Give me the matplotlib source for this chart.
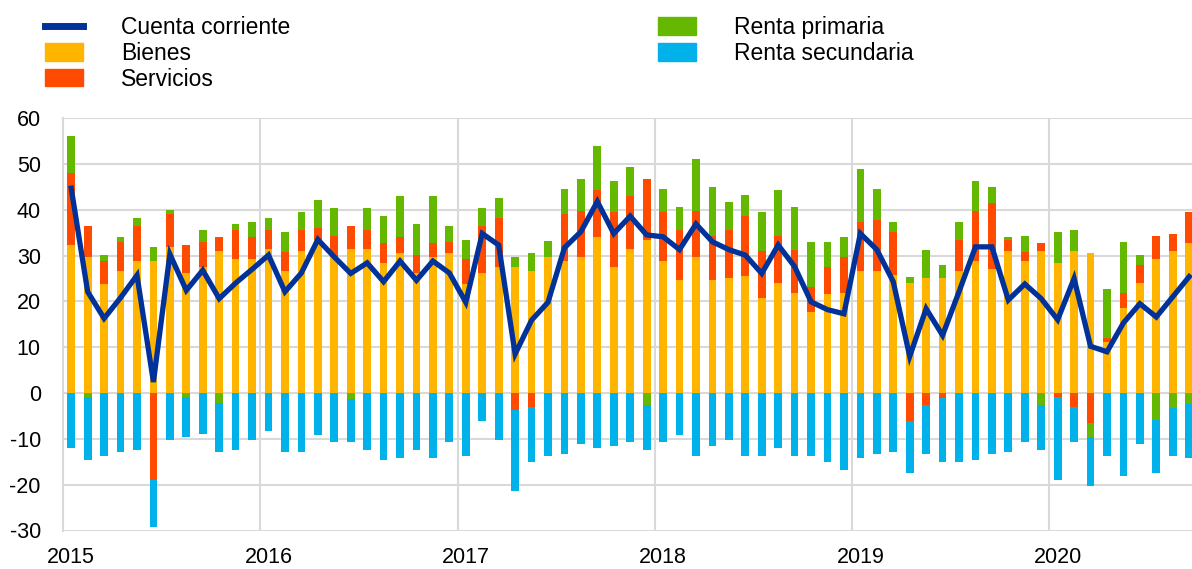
import matplotlib
matplotlib.use("Agg")
import matplotlib.pyplot as plt
from matplotlib.patches import Patch
from matplotlib.lines import Line2D
import numpy as np

plt.rcParams['font.family'] = ['Liberation Sans', 'DejaVu Sans']
plt.rcParams['axes.unicode_minus'] = False

# monthly data, Jan 2015 - Sep 2020 (EUR bn)
years = ['2015', '2016', '2017', '2018', '2019', '2020']

bienes = [32.3, 29.7, 23.8, 26.7, 28.8, 28.8, 31.9, 26.3, 27.6, 31.0, 29.2, 29.2,
          31.4, 26.7, 31.0, 33.5, 29.7, 31.4, 31.4, 28.4, 30.5, 26.2, 29.7, 30.5,
          23.8, 26.2, 27.6, 27.6, 26.7, 29.7, 28.8, 29.7, 34.0, 27.6, 31.4, 33.5,
          28.8, 24.6, 29.7, 24.6, 25.0, 25.5, 20.8, 24.1, 21.9, 17.7, 21.6, 21.9,
          26.7, 26.7, 25.7, 24.1, 25.0, 25.0, 26.7, 28.8, 27.0, 31.0, 28.8, 31.0,
          28.4, 31.0, 30.5, 11.2, 18.6, 24.1, 29.2, 31.0, 32.7]
servicios = [15.7, 6.7, 5.0, 6.3, 7.7, -18.9, 7.1, 5.9, 5.4, 3.0, 6.4, 4.8,
             4.2, 4.1, 4.6, 2.6, 4.6, 5.0, 4.2, 4.3, 3.5, 3.9, 3.0, 2.5,
             5.4, 10.2, 10.6, -3.6, -3.0, 0.0, 10.2, 10.1, 10.2, 11.8, 11.5, 13.2,
             10.6, 11.0, 10.1, 9.7, 10.6, 13.1, 10.2, 10.2, 9.4, 5.5, 6.0, 7.8,
             10.7, 11.1, 9.5, -6.1, -2.7, -1.0, 6.8, 11.0, 14.5, 2.5, 2.0, 1.7,
             -0.9, -3.1, -6.6, 0.9, 3.3, 3.8, 5.1, 3.8, 6.7]
renta_primaria = [8.1, -0.9, 1.3, 1.0, 1.7, 3.1, 0.9, -0.9, 2.6, -2.2, 1.3, 3.3,
                  2.6, 4.3, 3.8, 6.0, 6.0, -1.3, 4.7, 5.9, 8.9, 6.8, 10.2, 3.4,
                  4.3, 3.9, 4.3, 2.1, 3.8, 3.4, 5.5, 6.9, 9.7, 6.9, 6.4, -2.6,
                  5.1, 5.1, 11.2, 10.6, 6.0, 4.6, 8.4, 9.9, 9.4, 9.8, 5.4, 4.3,
                  11.4, 6.7, 2.1, 1.3, 6.3, 2.9, 3.8, 6.5, 3.4, 0.5, 3.5, -2.6,
                  6.8, 4.6, -3.1, 10.7, 11.1, 2.2, -5.8, -3.2, -2.3]
renta_secundaria = [-12.0, -13.7, -13.8, -12.9, -12.5, -10.3, -10.3, -8.6, -9.0, -10.7, -12.5, -10.3,
                    -8.2, -12.9, -12.9, -9.1, -10.7, -9.4, -12.5, -14.6, -14.2, -12.5, -14.2, -10.7,
                    -13.8, -6.1, -10.3, -17.8, -12.1, -13.8, -13.3, -11.1, -12.0, -11.6, -10.7, -9.9,
                    -10.7, -9.1, -13.8, -11.6, -10.3, -13.8, -13.8, -12.0, -13.8, -13.8, -15.1, -16.7,
                    -14.2, -13.3, -12.9, -11.4, -10.6, -14.1, -15.1, -14.6, -13.3, -12.9, -10.7, -9.9,
                    -18.0, -7.6, -10.5, -13.8, -18.0, -11.1, -11.7, -10.6, -11.9]
cuenta_corriente = [44.7, 22.1, 16.3, 20.8, 25.7, 2.4, 30.3, 22.4, 26.8, 20.6, 24.0, 27.0,
                    30.1, 22.1, 26.2, 33.5, 29.7, 26.1, 28.4, 24.3, 28.8, 24.6, 28.8, 26.2,
                    19.8, 34.8, 32.3, 8.5, 15.9, 19.8, 31.7, 35.2, 41.8, 34.8, 38.6, 34.5,
                    34.1, 31.3, 36.9, 33.0, 31.3, 30.1, 26.1, 32.3, 27.6, 19.9, 18.2, 17.3,
                    34.8, 31.3, 24.3, 8.0, 18.4, 12.6, 22.1, 31.9, 31.9, 20.3, 23.8, 20.6,
                    16.0, 25.0, 10.2, 9.0, 15.3, 19.5, 16.6, 21.0, 25.4]

components = [
    ('Bienes', bienes, '#FFB400'),
    ('Servicios', servicios, '#FF4B00'),
    ('Renta primaria', renta_primaria, '#65B800'),
    ('Renta secundaria', renta_secundaria, '#00B1EA'),
]
line_color = '#003299'

n = len(bienes)
x = np.arange(n)

fig = plt.figure(figsize=(11.92, 5.69), dpi=100)
ax = fig.add_axes([63 / 1192, 38.5 / 569, 1134.4 / 1192, 412.4 / 569])

pos_bottom = np.zeros(n)
neg_bottom = np.zeros(n)
for name, vals, color in components:
    v = np.array(vals)
    bottom = np.where(v >= 0, pos_bottom, neg_bottom)
    ax.bar(x, v, width=0.47, bottom=bottom, color=color, linewidth=0, zorder=2)
    pos_bottom += np.clip(v, 0, None)
    neg_bottom += np.clip(v, None, 0)

ax.plot(x, cuenta_corriente, color=line_color, linewidth=3.8, zorder=3,
        solid_joinstyle='miter')

ax.set_xlim(-0.5, n - 0.5)
ax.set_ylim(-30, 60)
ax.set_yticks(range(-30, 61, 10))
ax.set_xticks(np.arange(0, n, 12))
ax.set_xticklabels(years)
ax.set_xticks(np.arange(11.5, n, 12), minor=True)

ax.grid(axis='y', color='#d9d9d9', linewidth=1.5, zorder=0)
ax.grid(axis='x', which='minor', color='#d9d9d9', linewidth=1.5, zorder=0)
ax.set_axisbelow(True)
for side in ['top', 'right', 'bottom']:
    ax.spines[side].set_visible(False)
ax.spines['left'].set_color('#d9d9d9')
ax.spines['left'].set_linewidth(1.5)
ax.tick_params(axis='both', which='both', length=0, labelsize=15.5, colors='black')
ax.tick_params(axis='y', pad=16)
ax.tick_params(axis='x', pad=12)

handles = [
    Line2D([0], [0], color=line_color, linewidth=5),
    Patch(color=components[0][2]),
    Patch(color=components[1][2]),
    Patch(color=components[2][2]),
    Patch(color=components[3][2]),
]
labels = ['Cuenta corriente', 'Bienes', 'Servicios', 'Renta primaria', 'Renta secundaria']
fig.legend(handles, labels, loc='upper left', bbox_to_anchor=(24 / 1192, 1.008),
           ncol=2, frameon=False, fontsize=16.5, handlelength=1.66, handleheight=0.8,
           handletextpad=1.66, columnspacing=16.07, labelspacing=0.12)

fig.savefig('out.png', dpi=100)
